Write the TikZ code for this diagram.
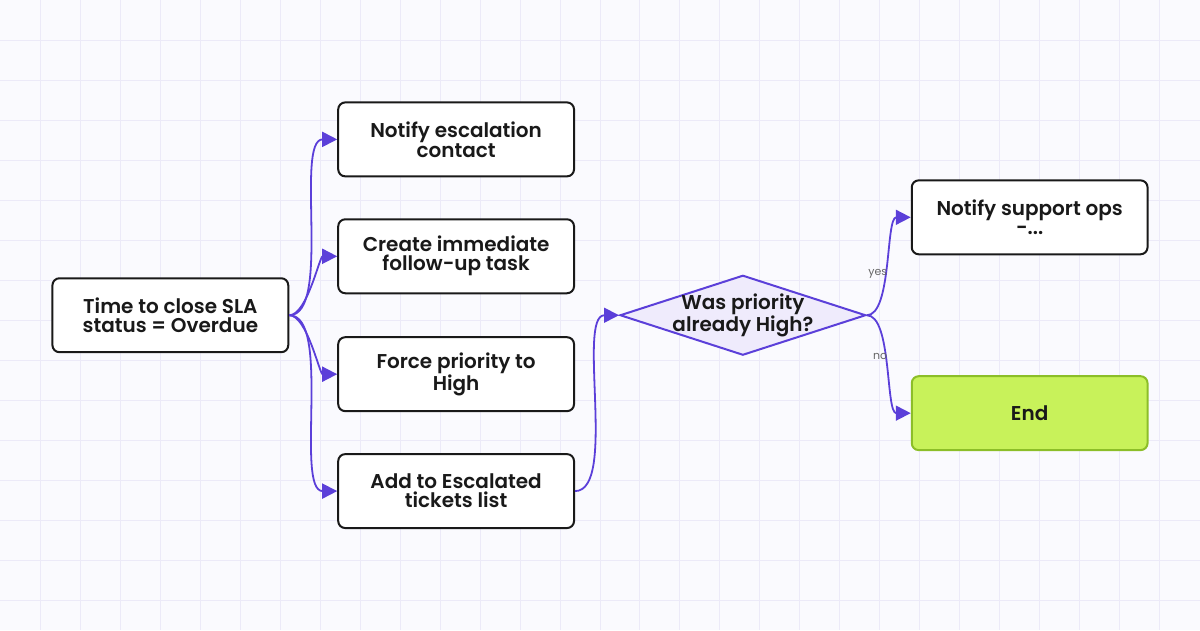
\documentclass[tikz,border=0pt]{standalone}
\usepackage{fontspec}
\setmainfont{Poppins}[BoldFont={* SemiBold}]
\usetikzlibrary{shapes.geometric,arrows.meta}
\definecolor{pur}{HTML}{5B3FD9}
\definecolor{grid}{HTML}{ECEAF8}
\begin{document}
\begin{tikzpicture}[x=1pt,y=-1pt,
 box/.style={draw=black!90,line width=2pt,rounded corners=7pt,fill=white,minimum width=236pt,minimum height=74pt,align=center,font=\fontsize{20}{19}\selectfont\bfseries,text=black!90},
 edge/.style={draw=pur,line width=1.8pt,-{Triangle[length=15pt,width=15pt]}},
 lab/.style={font=\fontsize{11}{12}\selectfont,text=black!60}]
\fill[white!97!blue!40!white] (0,0) rectangle (1200,630);
\fill[color={rgb,255:red,250;green,250;blue,254}] (0,0) rectangle (1200,630);
\foreach \i in {40,80,...,1160} \draw[grid,line width=1pt] (\i,0) -- (\i,630);
\foreach \j in {40,80,...,600} \draw[grid,line width=1pt] (0,\j) -- (1200,\j);
\useasboundingbox (0,0) rectangle (1200,630);
\node[box] (s) at (170,315) {Time to close SLA\\status = Overdue};
\node[box] (a) at (456,139) {Notify escalation\\contact};
\node[box] (b) at (456,256) {Create immediate\\follow-up task};
\node[box] (c) at (456,374) {Force priority to\\High};
\node[box] (d) at (456,491) {Add to Escalated\\tickets list};
\node[diamond,draw=pur,line width=2pt,fill={rgb,255:red,239;green,235;blue,252},minimum width=246pt,minimum height=80pt,aspect=3.1,inner sep=0pt,font=\fontsize{20}{19}\selectfont\bfseries,align=center,text=black!90] (q) at (743,315) {};
\node[font=\fontsize{20}{19}\selectfont\bfseries,align=center,text=black!90] at (743,315) {Was priority\\already High?};
\node[box] (n) at (1030,217) {Notify support ops\\-...};
\node[box,draw={rgb,255:red,140;green,190;blue,40},fill={rgb,255:red,200;green,242;blue,90}] (e) at (1030,413) {End};
\foreach \t in {a,b,c,d} \draw[edge] (s.east) to[out=0,in=180,looseness=0.6] (\t.west);
\draw[edge] (d.east) to[out=0,in=180,looseness=0.6] (q.west);
\draw[edge] (q.east) to[out=0,in=180,looseness=0.6] node[lab,pos=0.45,left=-4pt]{yes} (n.west);
\draw[edge] (q.east) to[out=0,in=180,looseness=0.6] node[lab,pos=0.45,left=-4pt]{no} (e.west);
\end{tikzpicture}
\end{document}
